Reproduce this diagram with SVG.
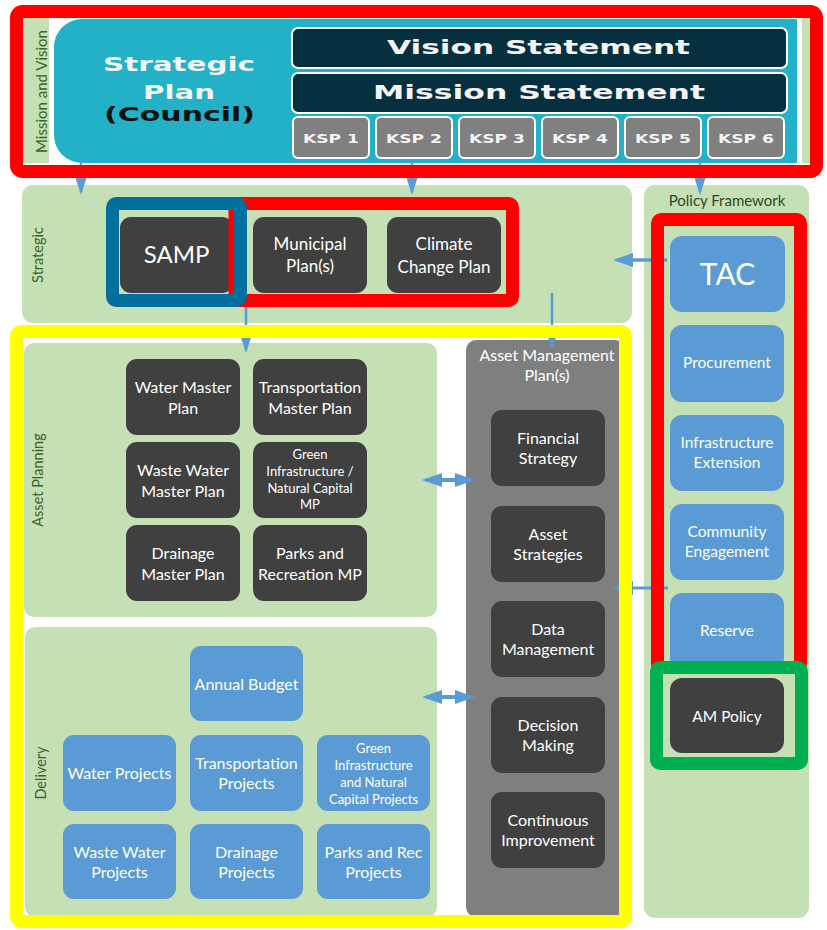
<svg xmlns="http://www.w3.org/2000/svg" width="827" height="930" viewBox="0 0 827 930">
<defs>
<style>
.lane{fill:#c5e0b4}
.dk{fill:#404040}
.bl{fill:#5b9bd5}
.ksp{fill:#808080;stroke:#fff;stroke-width:2}
.stmt{fill:#06303f;stroke:#fff;stroke-width:2}
text{font-family:Lato,"Liberation Sans",sans-serif}
.nt{fill:#fff;font-size:16px;text-anchor:middle}
.sm{font-size:13px}
.md{font-size:17px}
.pf{font-size:15.5px}
.lbl{fill:#3b6428;font-size:14.5px;text-anchor:middle}
.vb{font-family:"DejaVu Sans",Verdana,sans-serif;font-weight:bold;fill:#f4f4f4}
.con{stroke:#5b9bd5;fill:none}
.frame{fill:none;stroke-width:13}
</style>
<marker id="aw" markerUnits="userSpaceOnUse" markerWidth="20" markerHeight="14" refX="16" refY="7" orient="auto-start-reverse"><path d="M0,0 L20,7 L0,14 z" fill="#5b9bd5"/></marker>
<marker id="an" markerUnits="userSpaceOnUse" markerWidth="17" markerHeight="11" refX="14" refY="5.5" orient="auto"><path d="M0,0 L17,5.5 L0,11 z" fill="#5b9bd5"/></marker>
<marker id="as" markerUnits="userSpaceOnUse" markerWidth="10" markerHeight="8" refX="8" refY="4" orient="auto"><path d="M0,0 L10,4 L0,8 z" fill="#5b9bd5"/></marker>
</defs>
<rect width="827" height="930" fill="#fff"/>

<g id="lanes">
  <rect class="lane" x="23" y="18" width="787" height="145"/>
  <rect x="49" y="18" width="753" height="145" fill="#fff"/>
  <rect class="lane" x="22" y="185" width="610" height="138" rx="11"/>
  <rect class="lane" x="644" y="185" width="165" height="733" rx="11"/>
  <rect class="lane" x="24" y="343" width="413" height="274" rx="10"/>
  <rect class="lane" x="25" y="627" width="412" height="290" rx="10"/>
  <text class="lbl" transform="translate(47,91.5) rotate(-90)" style="font-size:15px">Mission and Vision</text>
  <text class="lbl" transform="translate(43,255) rotate(-90)">Strategic</text>
  <text class="lbl" transform="translate(43,480) rotate(-90)">Asset Planning</text>
  <text class="lbl" transform="translate(46,773) rotate(-90)">Delivery</text>
  <text x="727" y="206" fill="#34452c" text-anchor="middle" style="font-size:15px">Policy Framework</text>
</g>

<g id="strategic-plan">
  <path d="M82,19 H797 V163 H82 A28,28 0 0 1 54,135 V47 A28,28 0 0 1 82,19 Z" fill="#22b1c6"/>
  <text class="vb" x="103" y="71" style="font-size:19px" textLength="152" lengthAdjust="spacingAndGlyphs">Strategic</text>
  <text class="vb" x="143" y="99" style="font-size:19px" textLength="72" lengthAdjust="spacingAndGlyphs">Plan</text>
  <text class="vb" x="104" y="121" style="font-size:19px;fill:#111" textLength="151" lengthAdjust="spacingAndGlyphs">(Council)</text>
</g>
<g id="vision-statement">
  <rect class="stmt" x="292" y="28" width="495" height="40" rx="6"/>
  <text class="vb" x="387" y="54" style="font-size:20px" textLength="303" lengthAdjust="spacingAndGlyphs">Vision Statement</text>
</g>
<g id="mission-statement">
  <rect class="stmt" x="292" y="73" width="495" height="40" rx="6"/>
  <text class="vb" x="373" y="99" style="font-size:20px" textLength="332" lengthAdjust="spacingAndGlyphs">Mission Statement</text>
</g>
<g id="ksp1"><rect class="ksp" x="293" y="117" width="76" height="41" rx="5"/><text class="vb" x="303" y="143" style="font-size:13px" textLength="56" lengthAdjust="spacingAndGlyphs">KSP 1</text></g>
<g id="ksp2"><rect class="ksp" x="376" y="117" width="76" height="41" rx="5"/><text class="vb" x="386" y="143" style="font-size:13px" textLength="56" lengthAdjust="spacingAndGlyphs">KSP 2</text></g>
<g id="ksp3"><rect class="ksp" x="459" y="117" width="76" height="41" rx="5"/><text class="vb" x="469" y="143" style="font-size:13px" textLength="56" lengthAdjust="spacingAndGlyphs">KSP 3</text></g>
<g id="ksp4"><rect class="ksp" x="542" y="117" width="76" height="41" rx="5"/><text class="vb" x="552" y="143" style="font-size:13px" textLength="56" lengthAdjust="spacingAndGlyphs">KSP 4</text></g>
<g id="ksp5"><rect class="ksp" x="625" y="117" width="76" height="41" rx="5"/><text class="vb" x="635" y="143" style="font-size:13px" textLength="56" lengthAdjust="spacingAndGlyphs">KSP 5</text></g>
<g id="ksp6"><rect class="ksp" x="708" y="117" width="76" height="41" rx="5"/><text class="vb" x="718" y="143" style="font-size:13px" textLength="56" lengthAdjust="spacingAndGlyphs">KSP 6</text></g>

<g id="am-plans">
  <rect x="466" y="340" width="159" height="577" rx="10" fill="#7f7f7f"/>
  <text class="nt" x="547" y="361">Asset Management</text>
  <text class="nt" x="547" y="381">Plan(s)</text>
</g>

<g id="connectors">
  <line class="con" x1="81" y1="160" x2="81" y2="192" stroke-width="2.5" marker-end="url(#an)"/>
  <line class="con" x1="412" y1="160" x2="412" y2="192" stroke-width="2.5" marker-end="url(#an)"/>
  <line class="con" x1="700" y1="160" x2="700" y2="192" stroke-width="2.5" marker-end="url(#an)"/>
  <line class="con" x1="667" y1="260" x2="617" y2="260" stroke-width="3.5" marker-end="url(#aw)"/>
  <line class="con" x1="246" y1="307" x2="246" y2="350" stroke-width="2.5" marker-end="url(#an)"/>
  <line class="con" x1="552" y1="293" x2="552" y2="346" stroke-width="2.5" marker-end="url(#as)"/>
  <line class="con" x1="426" y1="480" x2="471" y2="480" stroke-width="4" marker-start="url(#aw)" marker-end="url(#aw)"/>
  <line class="con" x1="426" y1="697" x2="471" y2="697" stroke-width="4" marker-start="url(#aw)" marker-end="url(#aw)"/>
  <line class="con" x1="668" y1="588" x2="617" y2="588" stroke-width="3" marker-end="url(#aw)"/>
</g>

<g id="samp"><rect class="dk" x="120" y="217" width="113" height="76" rx="11"/><text class="nt" x="176.5" y="263" style="font-size:24px">SAMP</text></g>
<g id="municipal-plans"><rect class="dk" x="253" y="217" width="114" height="76" rx="11"/><text class="nt md" x="310" y="250">Municipal</text><text class="nt md" x="310" y="272">Plan(s)</text></g>
<g id="climate-change-plan"><rect class="dk" x="387" y="217" width="114" height="76" rx="11"/><text class="nt md" x="444" y="250">Climate</text><text class="nt md" x="444" y="273">Change Plan</text></g>

<g id="water-master-plan"><rect class="dk" x="126" y="359" width="114" height="76" rx="11"/><text class="nt" x="183" y="393">Water Master</text><text class="nt" x="183" y="414">Plan</text></g>
<g id="transportation-master-plan"><rect class="dk" x="253" y="359" width="114" height="76" rx="11"/><text class="nt" x="310" y="393">Transportation</text><text class="nt" x="310" y="414">Master Plan</text></g>
<g id="waste-water-master-plan"><rect class="dk" x="126" y="442" width="114" height="76" rx="11"/><text class="nt" x="183" y="476">Waste Water</text><text class="nt" x="183" y="497">Master Plan</text></g>
<g id="green-infrastructure-mp"><rect class="dk" x="253" y="442" width="114" height="76" rx="11"/><text class="nt sm" x="310" y="459">Green</text><text class="nt sm" x="310" y="476">Infrastructure /</text><text class="nt sm" x="310" y="493">Natural Capital</text><text class="nt sm" x="310" y="509">MP</text></g>
<g id="drainage-master-plan"><rect class="dk" x="126" y="525" width="114" height="76" rx="11"/><text class="nt" x="183" y="559">Drainage</text><text class="nt" x="183" y="580">Master Plan</text></g>
<g id="parks-recreation-mp"><rect class="dk" x="253" y="525" width="114" height="76" rx="11"/><text class="nt" x="310" y="559">Parks and</text><text class="nt" x="310" y="580">Recreation MP</text></g>

<g id="annual-budget"><rect class="bl" x="190" y="646" width="113" height="75" rx="11"/><text class="nt" x="246.5" y="690">Annual Budget</text></g>
<g id="water-projects"><rect class="bl" x="63" y="735" width="113" height="76" rx="11"/><text class="nt" x="119.5" y="779">Water Projects</text></g>
<g id="transportation-projects"><rect class="bl" x="190" y="735" width="113" height="76" rx="11"/><text class="nt" x="246.5" y="769">Transportation</text><text class="nt" x="246.5" y="789">Projects</text></g>
<g id="green-infrastructure-projects"><rect class="bl" x="317" y="735" width="113" height="76" rx="11"/><text class="nt sm" x="373.5" y="753">Green</text><text class="nt sm" x="373.5" y="770">Infrastructure</text><text class="nt sm" x="373.5" y="787">and Natural</text><text class="nt sm" x="373.5" y="804">Capital Projects</text></g>
<g id="waste-water-projects"><rect class="bl" x="63" y="824" width="113" height="75" rx="11"/><text class="nt" x="119.5" y="858">Waste Water</text><text class="nt" x="119.5" y="878">Projects</text></g>
<g id="drainage-projects"><rect class="bl" x="190" y="824" width="113" height="75" rx="11"/><text class="nt" x="246.5" y="858">Drainage</text><text class="nt" x="246.5" y="878">Projects</text></g>
<g id="parks-rec-projects"><rect class="bl" x="317" y="824" width="113" height="75" rx="11"/><text class="nt" x="373.5" y="858">Parks and Rec</text><text class="nt" x="373.5" y="878">Projects</text></g>

<g id="financial-strategy"><rect class="dk" x="491" y="410" width="114" height="76" rx="11"/><text class="nt" x="548" y="444">Financial</text><text class="nt" x="548" y="464">Strategy</text></g>
<g id="asset-strategies"><rect class="dk" x="491" y="506" width="114" height="76" rx="11"/><text class="nt" x="548" y="540">Asset</text><text class="nt" x="548" y="560">Strategies</text></g>
<g id="data-management"><rect class="dk" x="491" y="601" width="114" height="76" rx="11"/><text class="nt" x="548" y="635">Data</text><text class="nt" x="548" y="655">Management</text></g>
<g id="decision-making"><rect class="dk" x="491" y="697" width="114" height="76" rx="11"/><text class="nt" x="548" y="731">Decision</text><text class="nt" x="548" y="751">Making</text></g>
<g id="continuous-improvement"><rect class="dk" x="491" y="792" width="114" height="76" rx="11"/><text class="nt" x="548" y="826">Continuous</text><text class="nt" x="548" y="846">Improvement</text></g>

<g id="tac"><rect class="bl" x="670" y="236" width="115" height="76" rx="12"/><text class="nt" x="727.5" y="285" style="font-size:30px">TAC</text></g>
<g id="procurement"><rect class="bl" x="670" y="325" width="114" height="77" rx="12"/><text class="nt pf" x="727" y="368">Procurement</text></g>
<g id="infrastructure-extension"><rect class="bl" x="670" y="415" width="114" height="76" rx="12"/><text class="nt pf" x="727" y="448">Infrastructure</text><text class="nt pf" x="727" y="468">Extension</text></g>
<g id="community-engagement"><rect class="bl" x="670" y="504" width="114" height="76" rx="12"/><text class="nt pf" x="727" y="537">Community</text><text class="nt pf" x="727" y="557">Engagement</text></g>
<g id="reserve"><rect class="bl" x="670" y="593" width="114" height="77" rx="12"/><text class="nt pf" x="727" y="636">Reserve</text></g>
<g id="am-policy"><rect class="dk" x="670" y="678" width="114" height="75" rx="12"/><text class="nt pf" x="727" y="722">AM Policy</text></g>

<g id="highlights">
  <rect class="frame" x="16.5" y="11.5" width="800" height="160" rx="6" stroke="#ff0000"/>
  <rect class="frame" x="235" y="203.5" width="277.5" height="97" rx="4" stroke="#ff0000"/>
  <rect class="frame" x="112.5" y="203.5" width="128" height="97" rx="4" stroke="#02709f"/>
  <rect class="frame" x="657.5" y="219.5" width="143" height="448" rx="4" stroke="#ff0000"/>
  <rect class="frame" x="656.5" y="667.5" width="145" height="96" rx="4" stroke="#00b050"/>
  <rect class="frame" x="16.5" y="331.5" width="609" height="590" rx="5" stroke="#ffff00"/>
</g>
</svg>
